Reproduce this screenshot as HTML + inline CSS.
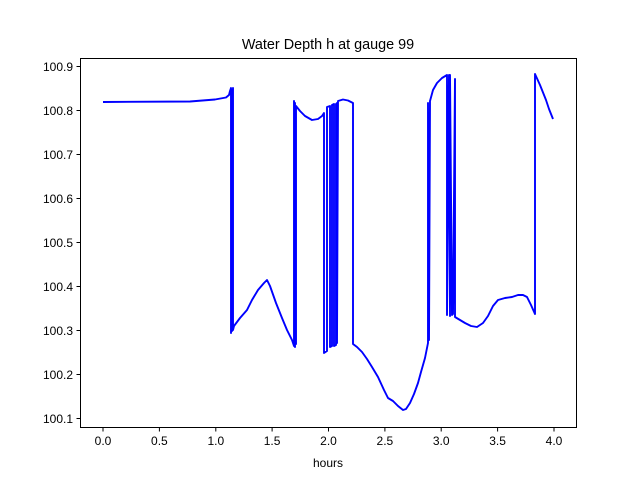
<!DOCTYPE html>
<html><head><style>body{margin:0;background:#fff}svg{display:block}</style></head><body>
<svg width="640" height="480" xmlns="http://www.w3.org/2000/svg" font-family="Liberation Sans, DejaVu Sans, sans-serif" font-size="12">
<rect width="640" height="480" fill="#fff"/>
<text x="328" y="49" text-anchor="middle" font-size="14.4">Water Depth h at gauge 99</text>
<polyline fill="none" stroke="#0000ff" stroke-width="1.9" stroke-linejoin="round" points="
103,102 190,101.5 215,99.5 226,97.5 229,95 230,91 231,88 231,333 232,90 232,331 233,88 233,330 234,326 240,318 247,310 252,300 258,290 264,283 267,280 270,286 276,303 282,318 287,330 292,340 294,346 294,101 295,347 295,103 296,344 296,106 300,111 305,116 312,120 318,119 322,116 324,113 324,353 327,351 327,107 330,106 330,347 332,346 332,105 334,104 334,346 336,345 336,104 337,103 337,343 338,101 343,99.5 348,100.5 353,103 353,344 357,347 362,352 367,359 372,367 378,377 384,390 388,398 393,401 398,406 403,410 406,409 410,403 414,394 418,383 421,372 425,358 428,343 428,103 429,340 430,101 433,90 437,83 442,78 447,75 447,315 449,75 450,316 450,75 452,315 453,314 455,79 455,317 460,320 465,323 471,326 477,327 483,323 488,316 493,306 498,300 505,298 512,297 518,295 523,295 527,297 531,305 535,314 535,74 540,85 546,100 549,109 553,119"/>
<rect x="80.5" y="58.5" width="496" height="369" fill="none" stroke="#000" stroke-width="1"/>
<g stroke="#000" stroke-width="1">
<line x1="103" y1="428" x2="103" y2="431.5"/><line x1="159.4" y1="428" x2="159.4" y2="431.5"/><line x1="215.8" y1="428" x2="215.8" y2="431.5"/><line x1="272.1" y1="428" x2="272.1" y2="431.5"/><line x1="328.5" y1="428" x2="328.5" y2="431.5"/><line x1="384.9" y1="428" x2="384.9" y2="431.5"/><line x1="441.2" y1="428" x2="441.2" y2="431.5"/><line x1="497.6" y1="428" x2="497.6" y2="431.5"/><line x1="554" y1="428" x2="554" y2="431.5"/>
<line x1="76.5" y1="66.5" x2="80" y2="66.5"/><line x1="76.5" y1="110.5" x2="80" y2="110.5"/><line x1="76.5" y1="154.5" x2="80" y2="154.5"/><line x1="76.5" y1="198.5" x2="80" y2="198.5"/><line x1="76.5" y1="242.5" x2="80" y2="242.5"/><line x1="76.5" y1="286.5" x2="80" y2="286.5"/><line x1="76.5" y1="330.5" x2="80" y2="330.5"/><line x1="76.5" y1="374.5" x2="80" y2="374.5"/><line x1="76.5" y1="418.5" x2="80" y2="418.5"/>
</g>
<g text-anchor="middle">
<text x="103" y="445">0.0</text><text x="159.4" y="445">0.5</text><text x="215.8" y="445">1.0</text><text x="272.1" y="445">1.5</text><text x="328.5" y="445">2.0</text><text x="384.9" y="445">2.5</text><text x="441.2" y="445">3.0</text><text x="497.6" y="445">3.5</text><text x="554" y="445">4.0</text>
<text x="328" y="467">hours</text>
</g>
<g text-anchor="end">
<text x="73" y="71">100.9</text><text x="73" y="115">100.8</text><text x="73" y="159">100.7</text><text x="73" y="203">100.6</text><text x="73" y="247">100.5</text><text x="73" y="291">100.4</text><text x="73" y="335">100.3</text><text x="73" y="379">100.2</text><text x="73" y="423">100.1</text>
</g>
</svg>
</body></html>
